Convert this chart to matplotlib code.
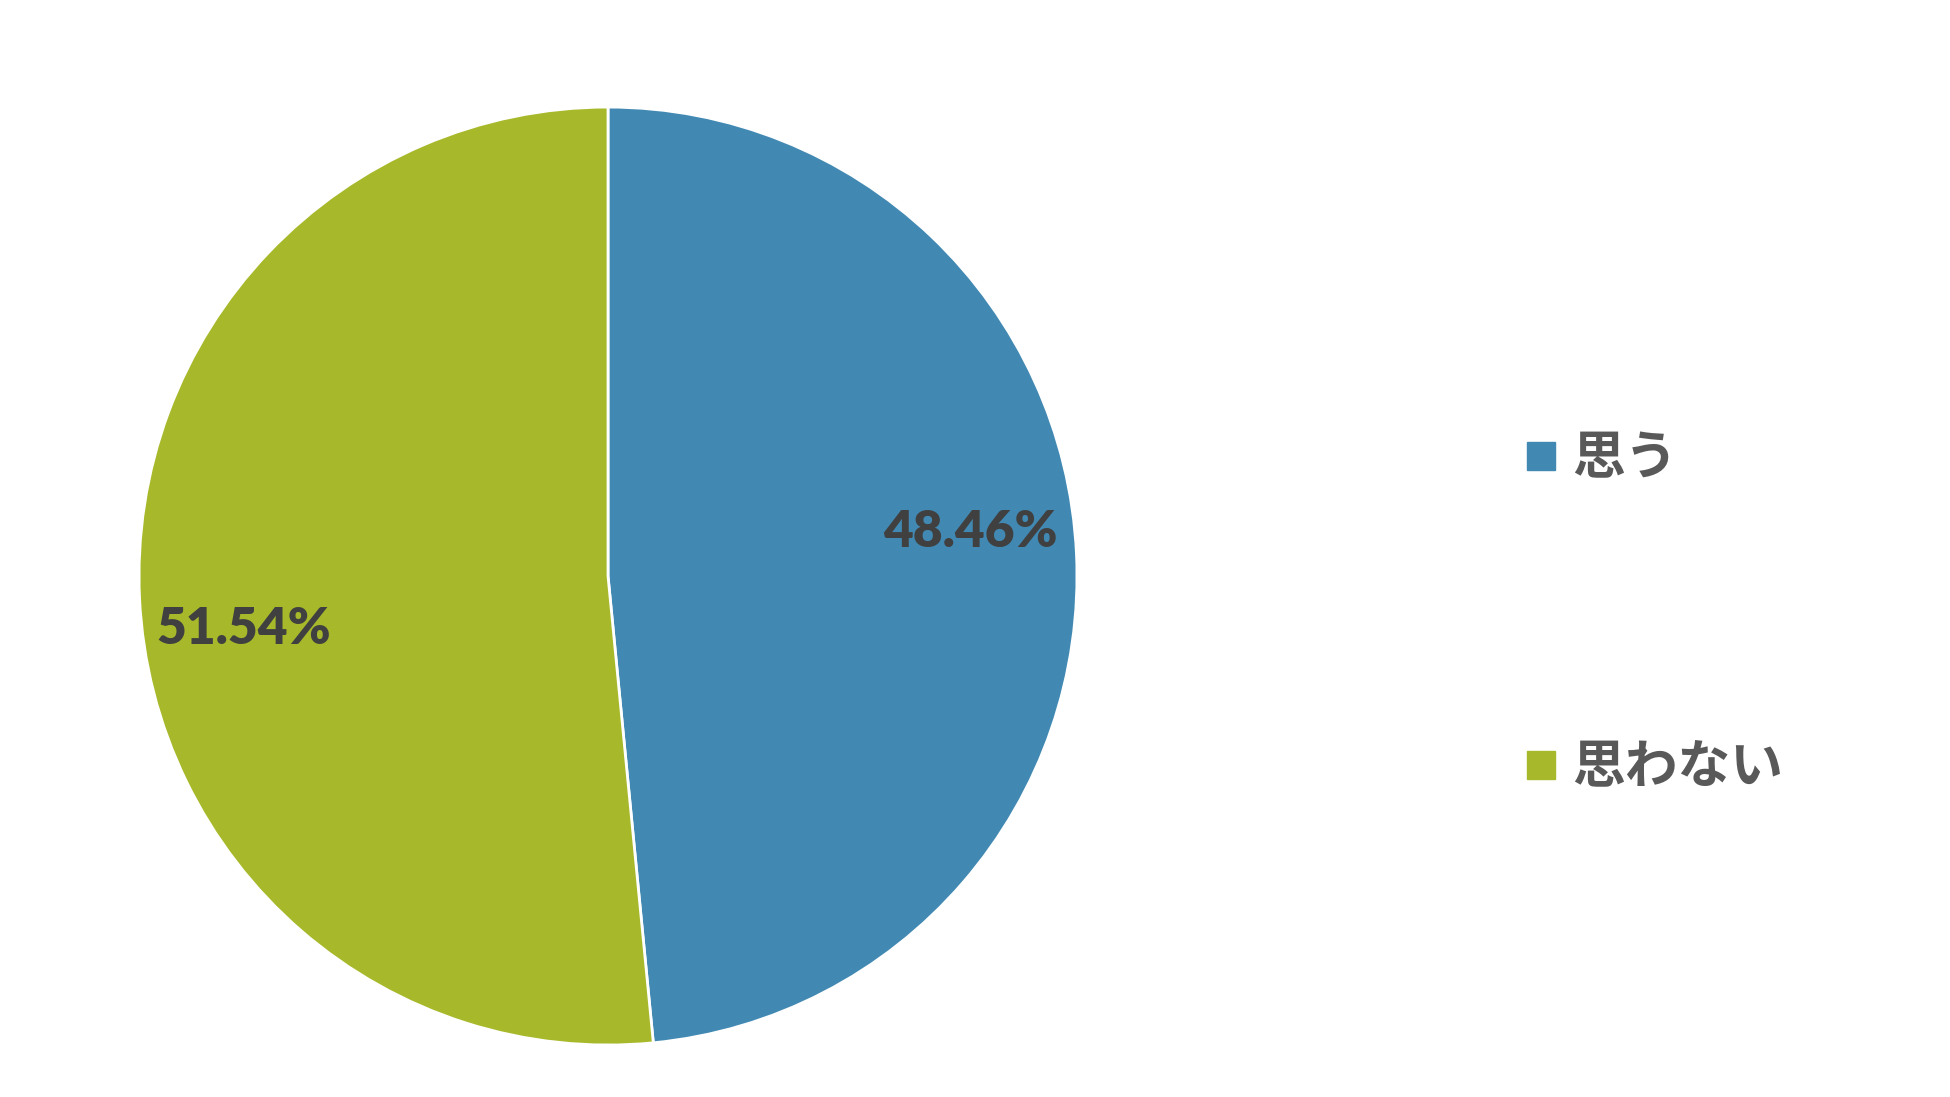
import matplotlib
matplotlib.use("Agg")
import matplotlib.pyplot as plt
from matplotlib.lines import Line2D

# data
labels = ["思う", "思わない"]
values = [48.46, 51.54]
colors = ["#4189B3", "#A7B92A"]

plt.rcParams['font.family'] = ['Noto Sans CJK JP', 'DejaVu Sans']

fig = plt.figure(figsize=(19.5, 10.97), dpi=100)
ax = fig.add_axes([0.0713, 0.0474, 0.481, 0.855])

wedges, texts = ax.pie(values, colors=colors, startangle=90, counterclock=False,
                       wedgeprops=dict(edgecolor="white", linewidth=2))
ax.set_xlim(-1, 1)
ax.set_ylim(-1, 1)
ax.set_aspect("equal")

# percentage labels
label_pos = [(0.772, 0.094), (-0.776, -0.113)]
for v, (x, y) in zip(values, label_pos):
    ax.text(x, y, f"{v:.2f}%", ha="center", va="center", fontsize=37,
            fontweight="heavy", color="#404040", family=["Lato", "DejaVu Sans"])

handles = [Line2D([0], [0], marker="s", linestyle="none", markersize=20,
                  markerfacecolor=c, markeredgecolor=c) for c in colors]
leg = fig.legend(handles, labels, loc="center left", bbox_to_anchor=(0.755, 0.441),
                 frameon=False, labelspacing=4.85, handletextpad=0.2,
                 handlelength=0.8, prop=dict(family="Noto Sans CJK JP", weight="bold", size=38))
for t in leg.get_texts():
    t.set_color("#595959")

fig.savefig("out.png", dpi=100, facecolor="white")
